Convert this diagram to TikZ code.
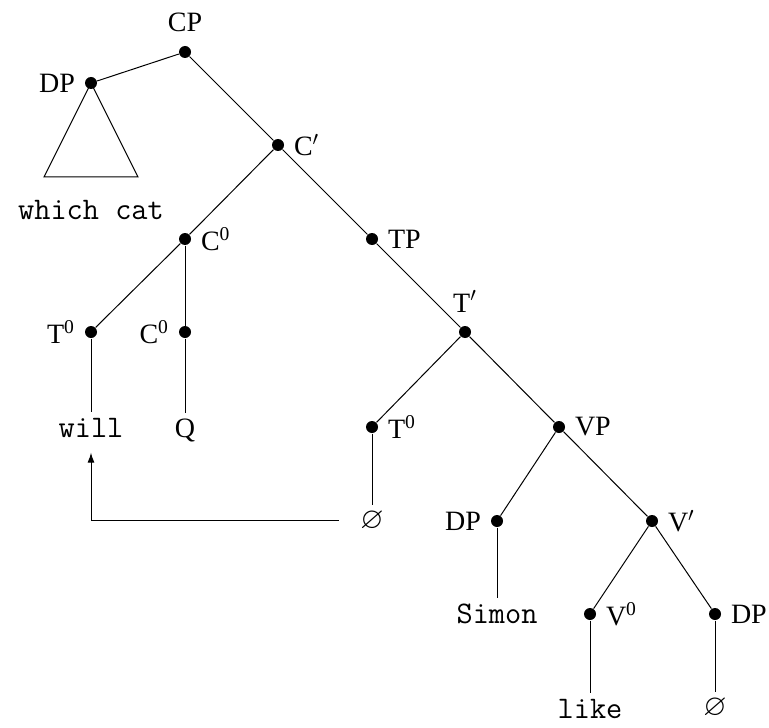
\documentclass[tikz,border=0pt]{standalone}
\usepackage{fontspec}
\usepackage{amssymb}
\setmainfont{Liberation Serif}
\usetikzlibrary{arrows.meta}
\tikzset{
  dot/.style={circle, fill, inner sep=0pt, minimum size=6pt},
  word/.style={anchor=base, inner sep=2.5pt, font=\fontsize{15.7}{18}\ttfamily},
  null/.style={anchor=base, inner sep=2.5pt, font=\fontsize{15}{18}\selectfont},
  every label/.style={inner sep=1pt, label distance=3.5pt, font=\fontsize{14}{16}\selectfont},
}
\begin{document}
\begin{tikzpicture}[x=0.5pt, y=-0.5pt, line width=0.5pt]
\useasboundingbox (0,0) rectangle (769,727);
\node[dot, label={[label distance=5.5pt]above:CP}] (cp) at (185,52) {};
\node[dot, label=left:DP] (dp) at (91,83) {};
\node[dot, label=right:C$'$] (cbar) at (278,145) {};
\node[dot, label=right:C\textsuperscript{0}] (c) at (185,239) {};
\node[dot, label=right:TP] (tp) at (372,239) {};
\node[dot, label=left:T\textsuperscript{0}] (tmove) at (91,332) {};
\node[dot, label=left:C\textsuperscript{0}] (cq) at (185,332) {};
\node[dot, label={[label distance=5.5pt]above:T$'$}] (tbar) at (465,332) {};
\node[dot, label=right:T\textsuperscript{0}] (t) at (372,427) {};
\node[dot, label=right:VP] (vp) at (559,427) {};
\node[dot, label=left:DP] (subj) at (497,521) {};
\node[dot, label=right:V$'$] (vbar) at (652,521) {};
\node[dot, label=right:V\textsuperscript{0}] (v) at (590,614) {};
\node[dot, label=right:DP] (obj) at (715,614) {};
% words
\node[word] (which) at (91,219) {which cat};
\node[word] (will) at (91,437) {will};
\node[word, font=\fontsize{14}{16}\selectfont] (q) at (185,437) {Q};
\node[null] (gap) at (372,528) {$\varnothing$};
\node[word] (simon) at (497,623) {Simon};
\node[word] (like) at (590,718) {like};
\node[null] (gapobj) at (715,715) {$\varnothing$};
% branches
\draw (cp) -- (dp);
\draw (cp) -- (cbar);
\draw (cbar) -- (c);
\draw (cbar) -- (tp);
\draw (c) -- (tmove);
\draw (c) -- (cq);
\draw (tp) -- (tbar);
\draw (tbar) -- (t);
\draw (tbar) -- (vp);
\draw (vp) -- (subj);
\draw (vp) -- (vbar);
\draw (vbar) -- (v);
\draw (vbar) -- (obj);
\draw (tmove) -- (will);
\draw (cq) -- (q);
\draw (t) -- (gap);
\draw (subj) -- (simon);
\draw (v) -- (like);
\draw (obj) -- (gapobj);
% triangle
\coordinate (tl) at (44,177);
\coordinate (tr) at (138,177);
\draw (dp.center) -- (tl) -- (tr) -- cycle;
% movement
\draw[-{Latex[length=5pt,width=3.5pt]}, shorten <=8pt, shorten >=5pt] (gap.west) -| (will.south);
\end{tikzpicture}
\end{document}
